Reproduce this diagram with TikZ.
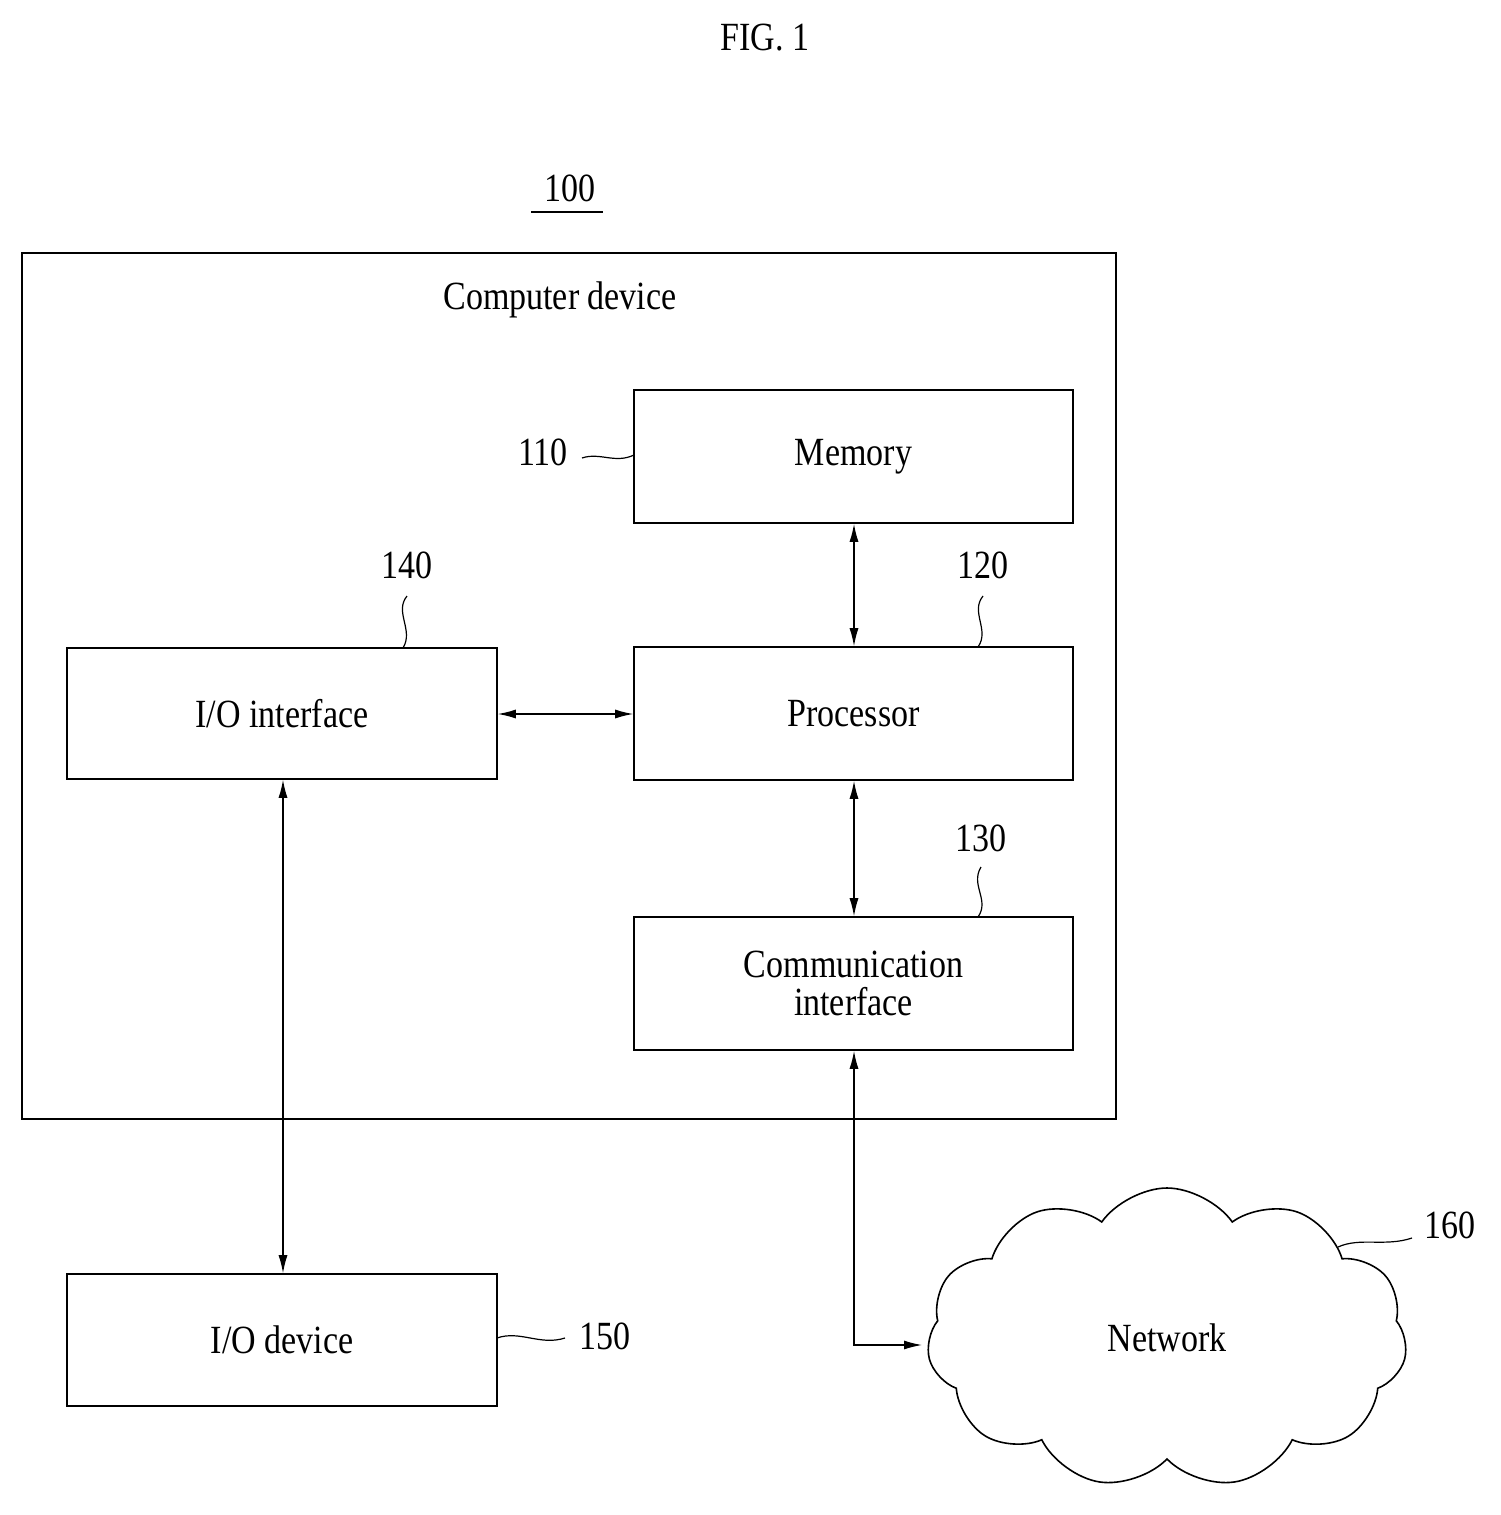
\documentclass[tikz,border=0pt]{standalone}
\usepackage{fontspec}
\setmainfont{Liberation Serif}[FakeStretch=0.85]
\usetikzlibrary{shapes.symbols,arrows.meta}
\begin{document}
\begin{tikzpicture}[x=1pt,y=-1pt,
  box/.style={draw,line width=1.6pt,inner sep=0pt},
  lbl/.style={font=\fontsize{40}{44}\selectfont},
  num/.style={font=\fontsize{40}{44}\selectfont},
  arr/.style={line width=1.3pt,{Latex[length=18pt,width=9pt]}-{Latex[length=18pt,width=9pt]}},
  sq/.style={line width=1.2pt}]
\useasboundingbox (0,0) rectangle (1501,1515);
\fill[white] (0,0) rectangle (1501,1515);
\node[num] (fig) at (765,38) {FIG. 1};
\node[num] (n100) at (570,188) {100};
\draw[line width=1.4pt] (531,212) -- (603,212);
\draw[box] (22,253) rectangle (1116,1119);
\node[lbl] (cd) at (560,300) {Computer device};
\node[box,minimum width=439pt,minimum height=133pt,lbl] (mem) at (853.5,456.5) {Memory};
\node[box,minimum width=439pt,minimum height=133pt,lbl] (proc) at (853.5,713.5) {Processor};
\node[box,minimum width=430pt,minimum height=131pt,lbl] (io) at (282,713.5) {I/O interface};
\node[box,minimum width=439pt,minimum height=133pt,lbl,align=center] (comm) at (853.5,983.5) {Communication\\[-6pt]interface};
\node[box,minimum width=430pt,minimum height=132pt,lbl] (iod) at (282,1340) {I/O device};
\node[cloud,draw,line width=1.6pt,cloud puffs=11,cloud puff arc=110,aspect=1.6,minimum width=480pt,minimum height=300pt,lbl] (net) at (1167,1338) {Network};
% arrows
\draw[arr] (mem.south -| 854,0) -- (proc.north -| 854,0);
\draw[arr] (proc.south -| 854,0) -- (comm.north -| 854,0);
\draw[arr] (io.east |- 0,714) -- (proc.west |- 0,714);
\draw[arr] (io.south -| 283,0) -- (iod.north -| 283,0);
\coordinate (bend) at (854,1345);
\draw[arr] (comm.south -| 854,0) -- (bend) -- (922,1345);
% labels
\node[num] (n110) at (543,452) {110};
\draw[sq] (582,458) .. controls (600,452) and (615,464) .. (634,455);
\node[num] (n120) at (983,565) {120};
\draw[sq] (983,596) .. controls (970,612) and (990,630) .. (978,647);
\node[num] (n140) at (407,565) {140};
\draw[sq] (407,596) .. controls (394,612) and (414,630) .. (403,648);
\node[num] (n130) at (981,838) {130};
\draw[sq] (981,867) .. controls (970,885) and (990,900) .. (978,917);
\node[num] (n150) at (605,1336) {150};
\draw[sq] (497,1338) .. controls (520,1330) and (540,1346) .. (565,1338);
\node[num] (n160) at (1450,1225) {160};
\draw[sq] (1338,1247) .. controls (1360,1237) and (1385,1247) .. (1412,1238);
\end{tikzpicture}
\end{document}
